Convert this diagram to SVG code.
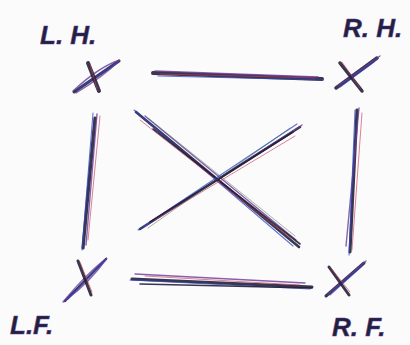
<svg xmlns="http://www.w3.org/2000/svg" width="410" height="345" viewBox="0 0 410 345">
<style>
.bg{fill:#fbfbfb}
line,path{fill:none;stroke-linecap:round}
.k{stroke:#23203a;stroke-width:2.4;opacity:.9}
.p{stroke:#6a3a9a;stroke-width:1.4;opacity:.8}
.b{stroke:#2a48c8;stroke-width:1.1;opacity:.75}
.r{stroke:#c83a5a;stroke-width:.9;opacity:.7}
.g{stroke:#3a6a4a;stroke-width:.8;opacity:.6}
.lbl{font-family:"Liberation Sans","DejaVu Sans",sans-serif;font-style:italic;font-weight:bold;font-size:26px;fill:#23203a;stroke:#5a3a9a;stroke-width:.5}
</style>
<rect class="bg" width="410" height="345"/>
<g id="connectors">
  <g id="top">
    <line class="k" x1="153" y1="73" x2="322" y2="79" style="stroke-width:4"/>
    <line class="p" x1="155" y1="71" x2="318" y2="77"/>
    <line class="b" x1="158" y1="76" x2="323" y2="80"/>
    <line class="r" x1="160" y1="74" x2="315" y2="78"/>
  </g>
  <g id="bottom">
    <line class="k" x1="132" y1="279" x2="312" y2="287" style="stroke-width:3"/>
    <line class="p" x1="135" y1="274" x2="305" y2="283"/>
    <line class="b" x1="130" y1="280" x2="310" y2="289"/>
    <line class="k" x1="140" y1="284" x2="312" y2="288" style="stroke-width:1.6"/>
    <line class="r" x1="145" y1="276" x2="300" y2="285"/>
  </g>
  <g id="left">
    <line class="k" x1="95" y1="118" x2="83" y2="248" style="stroke-width:3.2"/>
    <line class="p" x1="97" y1="114" x2="86" y2="245"/>
    <line class="b" x1="93" y1="113" x2="82" y2="250"/>
    <line class="r" x1="100" y1="116" x2="88" y2="240"/>
  </g>
  <g id="right">
    <line class="k" x1="357" y1="110" x2="350" y2="252" style="stroke-width:3"/>
    <line class="p" x1="359" y1="108" x2="346" y2="246"/>
    <line class="b" x1="355" y1="110" x2="349" y2="255"/>
    <line class="r" x1="362" y1="113" x2="352" y2="250"/>
  </g>
  <g id="diag1">
    <line class="k" x1="136" y1="112" x2="299" y2="247" style="stroke-width:2.6"/>
    <line class="p" x1="145" y1="116" x2="296" y2="240"/>
    <line class="b" x1="134" y1="110" x2="293" y2="246"/>
    <line class="k" x1="153" y1="129" x2="300" y2="244" style="stroke-width:1.6"/>
    <line class="r" x1="140" y1="120" x2="290" y2="238"/>
    <line class="g" x1="148" y1="118" x2="295" y2="236"/>
  </g>
  <g id="diag2">
    <line class="k" x1="300" y1="127" x2="140" y2="229" style="stroke-width:2.6"/>
    <line class="p" x1="302" y1="125" x2="145" y2="226"/>
    <line class="b" x1="297" y1="124" x2="138" y2="230"/>
    <line class="k" x1="293" y1="132" x2="150" y2="222" style="stroke-width:1.5"/>
    <line class="r" x1="295" y1="136" x2="155" y2="220"/>
    <line class="g" x1="290" y1="128" x2="148" y2="228"/>
  </g>
</g>
<g id="LH">
  <line class="k" x1="74" y1="92" x2="119" y2="61" style="stroke-width:3"/>
  <path class="p" d="M73,91 Q100,66 120,60 Q104,76 76,93"/>
  <line class="b" x1="77" y1="90" x2="116" y2="63"/>
  <line class="k" x1="88" y1="63" x2="99" y2="91" style="stroke-width:4"/>
  <line class="r" x1="90" y1="64" x2="97" y2="89"/>
  <text class="lbl" x="40" y="44">L. H.</text>
</g>
<g id="RH">
  <line class="k" x1="336" y1="88" x2="377" y2="58" style="stroke-width:3.5"/>
  <line class="p" x1="338" y1="86" x2="380" y2="56"/>
  <line class="b" x1="340" y1="87" x2="374" y2="62"/>
  <line class="k" x1="340" y1="63" x2="362" y2="91" style="stroke-width:3.5"/>
  <line class="r" x1="342" y1="62" x2="360" y2="88"/>
  <text class="lbl" x="343" y="37">R. H.</text>
</g>
<g id="LF">
  <line class="k" x1="65" y1="301" x2="106" y2="259" style="stroke-width:2.5"/>
  <path class="p" d="M63,302 Q88,272 107,258 Q90,282 66,300"/>
  <line class="b" x1="68" y1="299" x2="104" y2="261"/>
  <line class="k" x1="78" y1="261" x2="91" y2="295" style="stroke-width:3"/>
  <line class="r" x1="80" y1="262" x2="92" y2="292"/>
  <text class="lbl" x="10" y="334">L.F.</text>
</g>
<g id="RF">
  <line class="k" x1="326" y1="296" x2="364" y2="263" style="stroke-width:3"/>
  <line class="p" x1="328" y1="294" x2="366" y2="261"/>
  <line class="b" x1="330" y1="295" x2="362" y2="266"/>
  <line class="k" x1="329" y1="267" x2="349" y2="295" style="stroke-width:3"/>
  <line class="r" x1="331" y1="268" x2="350" y2="292"/>
  <text class="lbl" x="332" y="336">R. F.</text>
</g>
</svg>
